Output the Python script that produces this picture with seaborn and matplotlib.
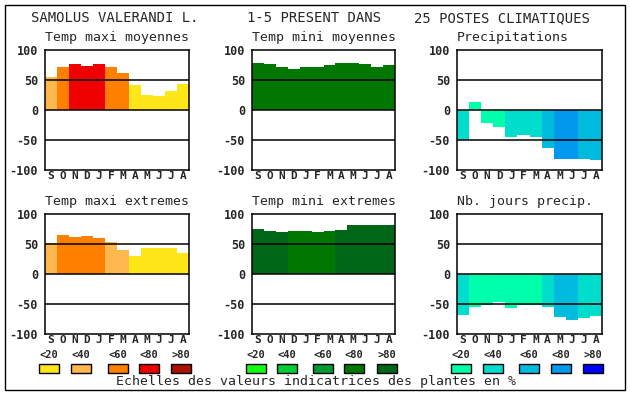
import matplotlib
matplotlib.use("Agg")
import matplotlib.pyplot as plt
import seaborn as sns
import pandas as pd
from matplotlib.patches import Rectangle

months = ["S", "O", "N", "D", "J", "F", "M", "A", "M", "J", "J", "A"]

temp_maxi_moy = [55, 71, 76, 74, 76, 72, 62, 42, 25, 24, 32, 44]
temp_mini_moy = [78, 76, 71, 68, 72, 71, 75, 78, 78, 76, 71, 75]
precip = [-50, 14, -21, -28, -45, -42, -45, -63, -82, -82, -82, -84]
temp_maxi_ext = [52, 65, 62, 64, 60, 54, 40, 30, 44, 44, 44, 35]
temp_mini_ext = [75, 72, 70, 72, 72, 70, 72, 74, 82, 82, 82, 82]
jours_precip = [-68, -55, -52, -47, -57, -52, -52, -55, -72, -77, -74, -70]

# class (0..4) of the indicator value for each month
cls_maxi_moy = [1, 2, 3, 3, 3, 2, 2, 0, 0, 0, 0, 0]
cls_mini_moy = [3] * 12
cls_precip = [1, 0, 0, 0, 1, 1, 1, 2, 3, 3, 2, 2]
cls_maxi_ext = [1, 2, 2, 2, 2, 1, 1, 0, 0, 0, 0, 0]
cls_mini_ext = [4, 4, 4, 3, 3, 3, 3, 4, 4, 4, 4, 4]
cls_jours = [1, 0, 0, 0, 0, 0, 0, 1, 2, 2, 1, 1]

scale_labels = ["<20", "<40", "<60", "<80", ">80"]
warm = ["#FFE619", "#FFB84D", "#FF8000", "#EE0000", "#AA1100"]
green = ["#11FF11", "#00CC33", "#009933", "#007700", "#006618"]
blue = ["#00FFAA", "#00DDCC", "#00BBDD", "#0099EE", "#0000FF"]

W, H = 630, 394
MONO = "DejaVu Sans Mono"

sns.set_style("white")
plt.rcParams["font.family"] = [MONO]

fig = plt.figure(figsize=(W / 100, H / 100), dpi=100)


def fx(x):
    return x / W


def fy(y):
    return 1 - y / H


def panel(x0, x1, y0, y1, title, values, classes, scale):
    ax = fig.add_axes([fx(x0), fy(y1), fx(x1 - x0), (y1 - y0) / H])
    df = pd.DataFrame({
        "pos": [str(i) for i in range(12)],
        "val": values,
    })
    pal = {str(i): scale[c] for i, c in enumerate(classes)}
    sns.barplot(
        data=df, x="pos", y="val", hue="pos", palette=pal,
        width=1, saturation=1, linewidth=0, legend=False, ax=ax
    )
    for v in [50, 0, -50]:
        ax.axhline(v, color="black", lw=1.1, zorder=5)
    ax.set_xlim(-0.5, 11.5)
    ax.set_ylim(-100, 100)
    ax.set_xticks(range(12))
    ax.set_xticklabels(months, fontweight="bold", fontsize=8)
    ax.set_yticks([100, 50, 0, -50, -100])
    ax.set_yticklabels(["100", "50", "0", "-50", "-100"],
                       fontweight="bold", fontsize=8.5)
    ax.tick_params(length=0, pad=1)
    ax.tick_params(axis="y", pad=5)
    ax.set_xlabel("")
    ax.set_ylabel("")
    for s in ax.spines.values():
        s.set_color("black")
        s.set_linewidth(1.1)
    fig.text(fx(x0), fy(y0 - 12), title, fontsize=9.5, ha="left",
             va="center")
    return ax


cols = [(45, 189), (252, 395), (457, 602)]
top = (50, 170)
bot = (214, 334)

panel(*cols[0], *top, "Temp maxi moyennes", temp_maxi_moy, cls_maxi_moy, warm)
panel(*cols[1], *top, "Temp mini moyennes", temp_mini_moy, cls_mini_moy, green)
panel(*cols[2], *top, "Precipitations", precip, cls_precip, blue)
panel(*cols[0], *bot, "Temp maxi extremes", temp_maxi_ext, cls_maxi_ext, warm)
panel(*cols[1], *bot, "Temp mini extremes", temp_mini_ext, cls_mini_ext, green)
panel(*cols[2], *bot, "Nb. jours precip.", jours_precip, cls_jours, blue)

# header
fig.text(fx(31), fy(18), "SAMOLUS VALERANDI L.", fontsize=10, va="center")
fig.text(fx(247), fy(18), "1-5 PRESENT DANS", fontsize=10, va="center")
fig.text(fx(414), fy(18), "25 POSTES CLIMATIQUES", fontsize=10, va="center")

# colour scales
box_x = [
    [39, 71, 108, 139, 171],
    [246, 277, 313, 344, 377],
    [451, 483, 519, 551, 583],
]
for xs, scale in zip(box_x, [warm, green, blue]):
    for x, lab, c in zip(xs, scale_labels, scale):
        fig.text(fx(x + 10), fy(355.5), lab, fontsize=7.5,
                 fontweight="bold", ha="center", va="center")
        fig.add_artist(Rectangle((fx(x), fy(373)), fx(20), 9 / H,
                                 facecolor=c, edgecolor="black", lw=1,
                                 transform=fig.transFigure))

fig.text(fx(316), fy(382), "Echelles des valeurs indicatrices des plantes en %",
         fontsize=9.5, ha="center", va="center")

# outer frame
fig.add_artist(Rectangle((fx(4.5), fy(389.5)), fx(620), 385 / H,
                         facecolor="none", edgecolor="black", lw=1,
                         transform=fig.transFigure))

fig.savefig("out.png", dpi=100)
